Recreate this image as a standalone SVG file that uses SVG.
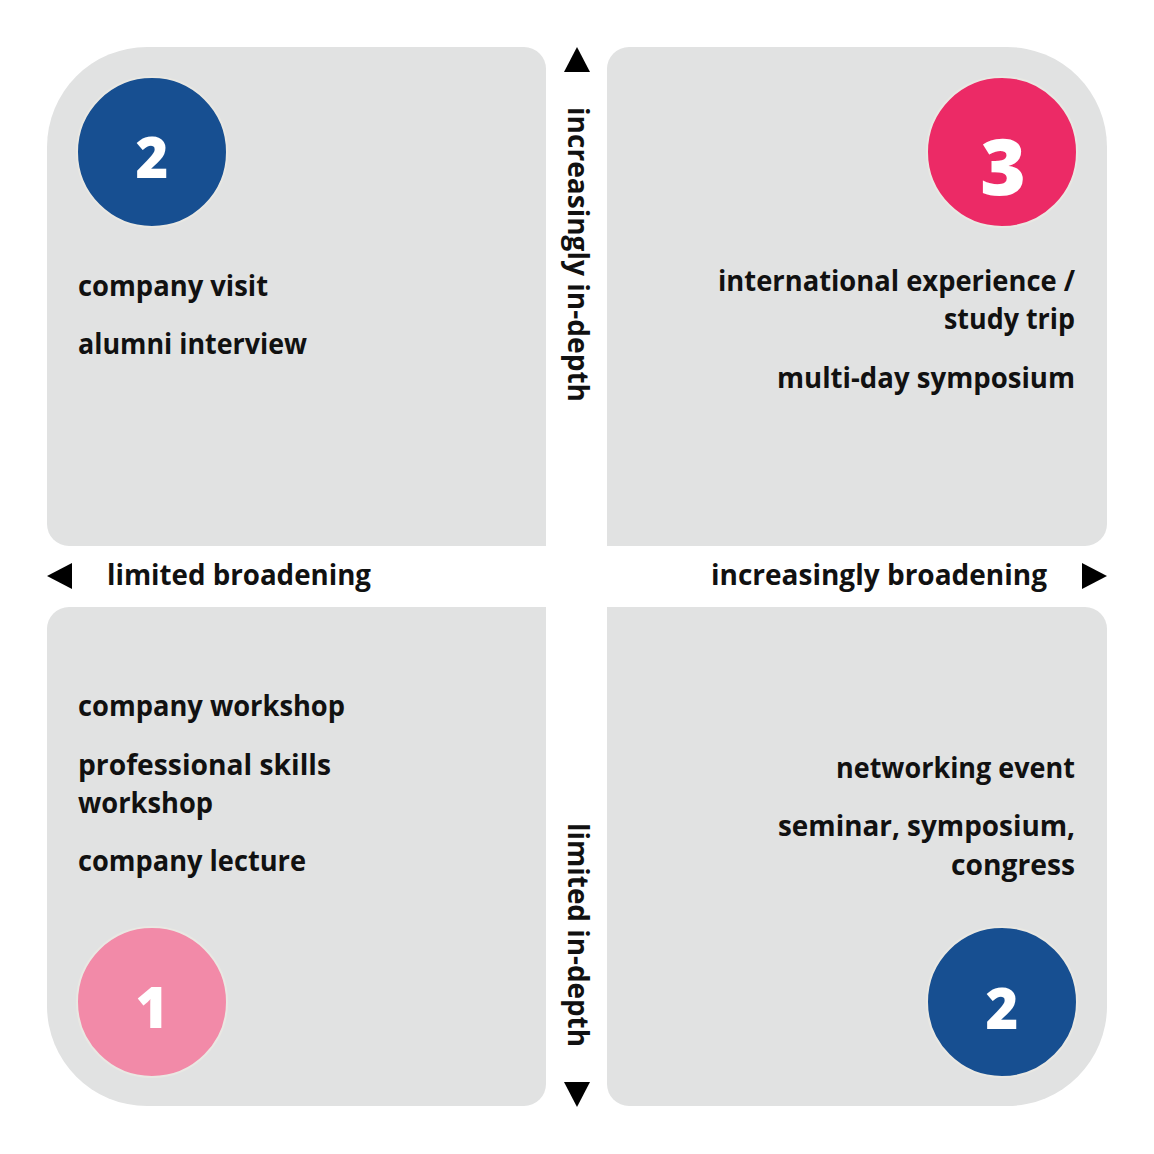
<svg xmlns="http://www.w3.org/2000/svg" width="1154" height="1154" viewBox="0 0 1154 1154">
<style>
.quad{fill:#e1e2e2}
.lbl{font-family:"Open Sans","Liberation Sans",sans-serif;font-weight:700;font-size:29px;fill:#111111}
.ax{font-family:"Open Sans","Liberation Sans",sans-serif;font-weight:700;font-size:29px;fill:#111111}
.num{font-family:"Open Sans","Liberation Sans",sans-serif;font-weight:800;fill:#ffffff;text-anchor:middle}
.end{text-anchor:end}
.tri{fill:#000000}
.halo{stroke:#e9e8e3;stroke-width:2}
</style>
<rect width="1154" height="1154" fill="#ffffff"/>

<g id="quadrant-top-left">
<path class="quad" d="M147,47 H524 A22,22 0 0 1 546,69 V546 H69 A22,22 0 0 1 47,524 V147 A100,100 0 0 1 147,47 Z"/>
<circle class="halo" cx="152" cy="152" r="75" fill="#174f91"/>
<text class="num" x="152" y="178" font-size="56">2</text>
<text class="lbl" x="78" y="296" textLength="190" lengthAdjust="spacingAndGlyphs">company visit</text>
<text class="lbl" x="78" y="354" textLength="229" lengthAdjust="spacingAndGlyphs">alumni interview</text>
</g>

<g id="quadrant-top-right">
<path class="quad" d="M629,47 H1007 A100,100 0 0 1 1107,147 V524 A22,22 0 0 1 1085,546 H607 V69 A22,22 0 0 1 629,47 Z"/>
<circle class="halo" cx="1002" cy="152" r="75" fill="#ec2a66"/>
<text class="num" x="1003" y="195" font-size="78">3</text>
<text class="lbl end" x="1075" y="291" textLength="357" lengthAdjust="spacingAndGlyphs">international experience /</text>
<text class="lbl end" x="1075" y="329" textLength="131" lengthAdjust="spacingAndGlyphs">study trip</text>
<text class="lbl end" x="1075" y="388" textLength="298" lengthAdjust="spacingAndGlyphs">multi-day symposium</text>
</g>

<g id="quadrant-bottom-left">
<path class="quad" d="M69,607 H546 V1084 A22,22 0 0 1 524,1106 H147 A100,100 0 0 1 47,1006 V629 A22,22 0 0 1 69,607 Z"/>
<circle class="halo" cx="152" cy="1002" r="75" fill="#f28aa8"/>
<text class="num" x="152" y="1028" font-size="56">1</text>
<text class="lbl" x="78" y="716" textLength="267" lengthAdjust="spacingAndGlyphs">company workshop</text>
<text class="lbl" x="78" y="775" textLength="253" lengthAdjust="spacingAndGlyphs">professional skills</text>
<text class="lbl" x="78" y="813" textLength="135" lengthAdjust="spacingAndGlyphs">workshop</text>
<text class="lbl" x="78" y="871" textLength="228" lengthAdjust="spacingAndGlyphs">company lecture</text>
</g>

<g id="quadrant-bottom-right">
<path class="quad" d="M607,607 H1085 A22,22 0 0 1 1107,629 V1006 A100,100 0 0 1 1007,1106 H629 A22,22 0 0 1 607,1084 Z"/>
<circle class="halo" cx="1002" cy="1002" r="75" fill="#174f91"/>
<text class="num" x="1002" y="1029" font-size="56">2</text>
<text class="lbl end" x="1075" y="778" textLength="239" lengthAdjust="spacingAndGlyphs">networking event</text>
<text class="lbl end" x="1075" y="836" textLength="297" lengthAdjust="spacingAndGlyphs">seminar, symposium,</text>
<text class="lbl end" x="1075" y="875" textLength="124" lengthAdjust="spacingAndGlyphs">congress</text>
</g>

<g id="axes">
<polygon class="tri" points="577,47 590,72 564,72"/>
<polygon class="tri" points="577,1107 590,1082 564,1082"/>
<polygon class="tri" points="47,576 72,563 72,589"/>
<polygon class="tri" points="1107,576 1082,563 1082,589"/>
<text class="ax" x="107" y="585" textLength="264" lengthAdjust="spacingAndGlyphs">limited broadening</text>
<text class="ax end" x="1047" y="585" textLength="336" lengthAdjust="spacingAndGlyphs">increasingly broadening</text>
<text class="ax" transform="translate(568,107) rotate(90)" textLength="295" lengthAdjust="spacingAndGlyphs">increasingly in-depth</text>
<text class="ax" transform="translate(568,823) rotate(90)" textLength="224" lengthAdjust="spacingAndGlyphs">limited in-depth</text>
</g>
</svg>
